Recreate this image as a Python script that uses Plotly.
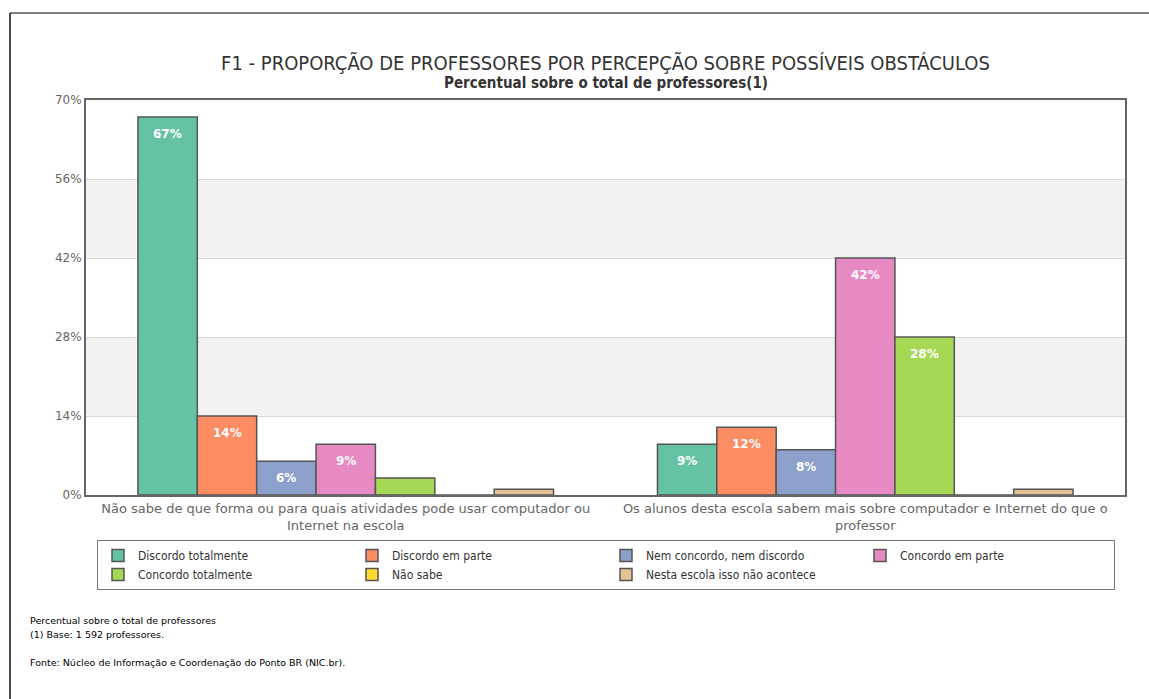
import plotly.graph_objects as go

categories = [
    "Não sabe de que forma ou para quais atividades pode usar computador ou<br>Internet na escola",
    "Os alunos desta escola sabem mais sobre computador e Internet do que o<br>professor",
]
series_names = [
    "Discordo totalmente",
    "Discordo em parte",
    "Nem concordo, nem discordo",
    "Concordo em parte",
    "Concordo totalmente",
    "Não sabe",
    "Nesta escola isso não acontece",
]
discordo_totalmente = [67, 9]
discordo_em_parte = [14, 12]
nem_concordo = [6, 8]
concordo_em_parte = [9, 42]
concordo_totalmente = [3, 28]
nao_sabe = [0, 0]
nesta_escola = [1, 1]
series_values = [discordo_totalmente, discordo_em_parte, nem_concordo,
                 concordo_em_parte, concordo_totalmente, nao_sabe, nesta_escola]
colors = ["#66c2a5", "#fc8d62", "#8da0cb", "#e78ac3", "#a6d854", "#ffd92f", "#e5c494"]
y_ticks = [0, 14, 28, 42, 56, 70]

L, R, T, B = 86, 24, 100, 204
W, H = 1149, 699
pw, ph = W - L - R, H - T - B

def px_x(X):
    return (X - L) / pw

def px_y(Y):
    return (H - B - Y) / ph

COND = "DejaVu Sans Condensed, Liberation Sans Narrow, sans-serif"

fig = go.Figure()
for name, vals, col in zip(series_names, series_values, colors):
    fig.add_trace(go.Bar(
        name=name, x=categories, y=vals,
        marker=dict(color=col, line=dict(color="#555555", width=1.5)),
        hoverinfo="skip",
    ))

annotations = []
n = len(series_names)
gw = 0.8
for i, vals in enumerate(series_values):
    for c, v in enumerate(vals):
        if v >= 5:
            annotations.append(dict(
                x=c - gw / 2 + gw / n * (i + 0.5), y=v, xref="x", yref="y",
                text=f"<b>{v}%</b>", showarrow=False, yanchor="middle", yshift=-17,
                font=dict(family="DejaVu Sans", size=12, color="white"),
            ))

annotations.append(dict(
    x=0.5, y=px_y(83), xref="paper", yref="paper", xanchor="center", yanchor="middle",
    text="<b>Percentual sobre o total de professores(1)</b>", showarrow=False,
    font=dict(family=COND, size=15, color="#333333"),
))
notes = [
    ("Percentual sobre o total de professores", 620),
    ("(1) Base: 1 592 professores.", 634),
    ("Fonte: Núcleo de Informação e Coordenação do Ponto BR (NIC.br).", 662),
]
for txt, yy in notes:
    annotations.append(dict(
        x=px_x(28), y=px_y(yy), xref="paper", yref="paper", xanchor="left", yanchor="middle",
        text=txt, showarrow=False,
        font=dict(family="DejaVu Sans", size=9.5, color="#000000"),
    ))

shapes = []
for k in range(1, len(y_ticks) - 1, 2):
    shapes.append(dict(type="rect", xref="paper", yref="y", x0=0, x1=1,
                       y0=y_ticks[k], y1=y_ticks[k + 1], fillcolor="#f2f2f2",
                       line=dict(width=0), layer="below"))
# outer frame lines
shapes.append(dict(type="line", xref="paper", yref="paper", x0=px_x(10), x1=px_x(1149),
                   y0=px_y(13), y1=px_y(13), line=dict(color="#808080", width=2)))
shapes.append(dict(type="line", xref="paper", yref="paper", x0=px_x(10), x1=px_x(10),
                   y0=px_y(13), y1=px_y(699), line=dict(color="#111111", width=1.5)))

fig.update_layout(
    width=W, height=H,
    margin=dict(l=L, r=R, t=T, b=B),
    paper_bgcolor="white", plot_bgcolor="white",
    barmode="group", bargap=0.2, bargroupgap=0,
    title=dict(text="F1 - PROPORÇÃO DE PROFESSORES POR PERCEPÇÃO SOBRE POSSÍVEIS OBSTÁCULOS",
               x=0.5, xref="paper", xanchor="center", y=1 - 63 / H, yanchor="middle",
               font=dict(family=COND, size=20, color="#333333")),
    xaxis=dict(showline=True, mirror=True, linecolor="#666666", linewidth=2,
               tickfont=dict(family="DejaVu Sans", size=13, color="#666666"),
               showgrid=False, ticks=""),
    yaxis=dict(range=[0, 70], tickvals=y_ticks, ticktext=[f"{t}%" for t in y_ticks],
               showline=True, mirror=True, linecolor="#666666", linewidth=2,
               gridcolor="#d9d9d9", gridwidth=1, zeroline=False,
               tickfont=dict(family="DejaVu Sans", size=12, color="#666666")),
    legend=dict(orientation="h", x=px_x(97), y=px_y(540), xanchor="left", yanchor="top",
                bgcolor="white", bordercolor="#777777", borderwidth=1,
                entrywidth=209, entrywidthmode="pixels", traceorder="normal",
                itemwidth=30,
                font=dict(family=COND, size=12, color="#333333")),
    annotations=annotations,
    shapes=shapes,
    showlegend=True,
)

fig.write_html("out.html")
